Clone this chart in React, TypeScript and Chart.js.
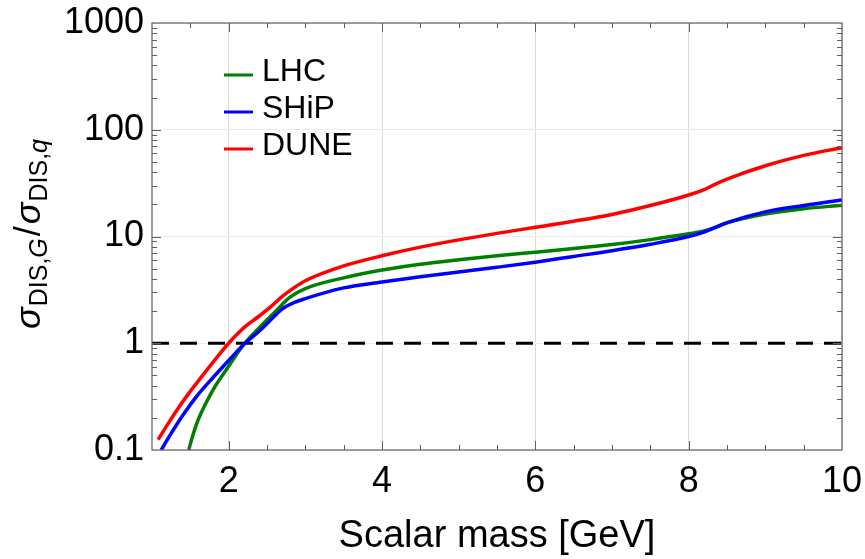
import React, { useEffect, useRef } from "react";
import { Chart, registerables } from "chart.js";

Chart.register(...registerables);

const FONT = '"Liberation Sans", Arial, Helvetica, sans-serif';

// Axis ticks
const xTicks = [2, 4, 6, 8, 10];
const yTicks = [0.1, 1, 10, 100, 1000];

// LHC
const lhcMass = [1.48, 1.52, 1.6, 1.8, 2.0, 2.2, 2.4, 2.6, 2.8, 3.0, 3.5, 4.0, 4.5, 5.0, 5.5, 6.0, 6.5, 7.0, 7.5, 8.0, 8.2, 8.35, 8.5, 9.0, 9.5, 10.0];
const lhcRatio = [0.1, 0.128, 0.19, 0.37, 0.61, 0.98, 1.4, 1.95, 2.7, 3.25, 4.1, 4.85, 5.5, 6.06, 6.6, 7.13, 7.7, 8.4, 9.35, 10.6, 11.25, 12.2, 13.4, 16.2, 18.2, 19.6];

// SHiP
const shipMass = [1.12, 1.2, 1.4, 1.6, 1.8, 2.0, 2.2, 2.4, 2.6, 2.7, 2.85, 3.0, 3.5, 4.0, 4.5, 5.0, 5.5, 6.0, 6.5, 7.0, 7.5, 8.0, 8.2, 8.35, 8.5, 9.0, 9.5, 10.0];
const shipRatio = [0.1, 0.125, 0.21, 0.33, 0.48, 0.69, 0.98, 1.3, 1.8, 2.1, 2.4, 2.62, 3.3, 3.75, 4.2, 4.64, 5.15, 5.75, 6.5, 7.35, 8.45, 10.0, 11.0, 12.2, 13.5, 17.0, 19.5, 22.0];

// DUNE
const duneMass = [1.08, 1.2, 1.4, 1.6, 1.8, 2.0, 2.2, 2.4, 2.55, 2.7, 2.85, 3.0, 3.5, 4.0, 4.5, 5.0, 5.5, 6.0, 6.5, 7.0, 7.5, 8.0, 8.2, 8.35, 8.5, 9.0, 9.5, 10.0];
const duneRatio = [0.125, 0.172, 0.283, 0.44, 0.67, 1.0, 1.4, 1.8, 2.2, 2.75, 3.3, 3.85, 5.3, 6.6, 7.95, 9.3, 10.7, 12.2, 13.9, 16.1, 19.5, 24.5, 27.5, 31.0, 34.5, 46.0, 57.5, 68.0];

// Reference line at ratio = 1
const unityMass = [1, 10];
const unityRatio = [1, 1];

const toPoints = (xs: number[], ys: number[]) => xs.map((x, i) => ({ x, y: ys[i] }));

// Mathematica-style frame with inward major and minor ticks on all four sides
const framePlugin = {
  id: "frame",
  afterDatasetsDraw(chart: any) {
    const { ctx, chartArea: a, scales } = chart;
    const xs = scales.x;
    const ys = scales.y;
    ctx.save();
    ctx.strokeStyle = "#5f5f5f";
    ctx.lineWidth = 1.2;
    ctx.strokeRect(a.left, a.top, a.right - a.left, a.bottom - a.top);

    ctx.lineWidth = 1;
    ctx.beginPath();
    for (let v = 1.5; v < 10; v += 0.5) {
      const major = Math.abs(v - Math.round(v)) < 1e-6 && Math.round(v) % 2 === 0;
      const len = major ? 9 : 5;
      const px = Math.round(xs.getPixelForValue(v)) + 0.5;
      ctx.moveTo(px, a.bottom);
      ctx.lineTo(px, a.bottom - len);
      ctx.moveTo(px, a.top);
      ctx.lineTo(px, a.top + len);
    }
    for (const d of [0.1, 1, 10, 100]) {
      for (let k = 1; k <= 9; k++) {
        const v = d * k;
        if (v <= 0.1 + 1e-9) continue;
        const len = k === 1 ? 9 : 5;
        const py = Math.round(ys.getPixelForValue(v)) + 0.5;
        ctx.moveTo(a.left, py);
        ctx.lineTo(a.left + len, py);
        ctx.moveTo(a.right, py);
        ctx.lineTo(a.right - len, py);
      }
    }
    ctx.stroke();
    ctx.restore();
  },
};

// Legend inside the plot area
const legendPlugin = {
  id: "insideLegend",
  afterDraw(chart: any) {
    const { ctx } = chart;
    const items = chart.data.datasets.filter((d: any) => d.label);
    ctx.save();
    ctx.font = `32px ${FONT}`;
    ctx.textBaseline = "middle";
    ctx.textAlign = "left";
    items.forEach((d: any, i: number) => {
      const yLine = 75 + i * 37;
      ctx.strokeStyle = d.borderColor;
      ctx.lineWidth = 3;
      ctx.beginPath();
      ctx.moveTo(224, yLine);
      ctx.lineTo(253, yLine);
      ctx.stroke();
      ctx.fillStyle = "#000";
      ctx.fillText(d.label, 262, yLine - 3);
    });
    ctx.restore();
  },
};

// Vertical axis title with subscripts
const yTitlePlugin = {
  id: "yTitle",
  afterDraw(chart: any) {
    const { ctx } = chart;
    const parts = [
      { t: "σ", f: `italic 36px ${FONT}`, dy: 0, gap: 1 },
      { t: "DIS,", f: `25px ${FONT}`, dy: 7, gap: 0 },
      { t: "G", f: `italic 25px ${FONT}`, dy: 7, gap: 2 },
      { t: "/", f: `36px ${FONT}`, dy: 0, gap: 2 },
      { t: "σ", f: `italic 36px ${FONT}`, dy: 0, gap: 1 },
      { t: "DIS,", f: `25px ${FONT}`, dy: 7, gap: 0 },
      { t: "q", f: `italic 25px ${FONT}`, dy: 7, gap: 0 },
    ];
    ctx.save();
    let total = 0;
    const widths = parts.map((p) => {
      ctx.font = p.f;
      const w = ctx.measureText(p.t).width;
      total += w + p.gap;
      return w;
    });
    ctx.translate(40, 234);
    ctx.rotate(-Math.PI / 2);
    ctx.fillStyle = "#000";
    ctx.textBaseline = "alphabetic";
    ctx.textAlign = "left";
    let x = -total / 2;
    parts.forEach((p, i) => {
      ctx.font = p.f;
      ctx.fillText(p.t, x, p.dy);
      x += widths[i] + p.gap;
    });
    ctx.restore();
  },
};

const noScalePadding = (s: any) => {
  s.paddingTop = 0;
  s.paddingBottom = 0;
  s.paddingLeft = 0;
  s.paddingRight = 0;
};

export default function App() {
  const canvasRef = useRef<HTMLCanvasElement | null>(null);

  useEffect(() => {
    const canvas = canvasRef.current;
    if (!canvas) return;
    const curve = {
      borderWidth: 3.5,
      pointRadius: 0,
      fill: false,
      cubicInterpolationMode: "monotone" as const,
    };
    const chart = new Chart(canvas, {
      type: "line",
      data: {
        datasets: [
          { ...curve, label: "LHC", data: toPoints(lhcMass, lhcRatio), borderColor: "#008000", order: 3 },
          { ...curve, label: "SHiP", data: toPoints(shipMass, shipRatio), borderColor: "#0000ff", order: 2 },
          { ...curve, label: "DUNE", data: toPoints(duneMass, duneRatio), borderColor: "#ff0000", order: 1 },
          {
            label: "",
            data: toPoints(unityMass, unityRatio),
            borderColor: "#000000",
            borderWidth: 3,
            borderDash: [17, 11],
            pointRadius: 0,
            fill: false,
            order: 4,
          },
        ],
      },
      options: {
        animation: false,
        responsive: false,
        devicePixelRatio: 1,
        layout: { padding: { left: 0, right: 23, top: 23, bottom: 0 } },
        plugins: {
          legend: { display: false },
          tooltip: { enabled: false },
        },
        scales: {
          x: {
            type: "linear",
            min: 1,
            max: 10,
            afterBuildTicks: (s: any) => {
              s.ticks = xTicks.map((v) => ({ value: v }));
            },
            afterFit: (s: any) => {
              s.height = 109;
              noScalePadding(s);
            },
            grid: { color: "#dcdcdc", lineWidth: 1, drawTicks: false },
            border: { display: false },
            ticks: {
              color: "#000",
              font: { family: FONT, size: 36 },
              padding: 10,
              maxRotation: 0,
              autoSkip: false,
            },
            title: {
              display: true,
              text: "Scalar mass [GeV]",
              color: "#000",
              font: { family: FONT, size: 38 },
              padding: { top: 0, bottom: 0 },
            },
          },
          y: {
            type: "logarithmic",
            min: 0.1,
            max: 1000,
            afterBuildTicks: (s: any) => {
              s.ticks = yTicks.map((v) => ({ value: v }));
            },
            afterFit: (s: any) => {
              s.width = 152;
              noScalePadding(s);
            },
            grid: { color: "#ececec", lineWidth: 1, drawTicks: false },
            border: { display: false },
            ticks: {
              color: "#000",
              font: { family: FONT, size: 36 },
              padding: 8,
              autoSkip: false,
              callback: (v: any) => String(v),
            },
          },
        },
      },
      plugins: [framePlugin, legendPlugin, yTitlePlugin],
    });
    return () => chart.destroy();
  }, []);

  return (
    <div style={{ position: "fixed", left: 0, top: 0, width: 865, height: 559, background: "#fff" }}>
      <canvas ref={canvasRef} width={865} height={559} style={{ display: "block" }} />
    </div>
  );
}
